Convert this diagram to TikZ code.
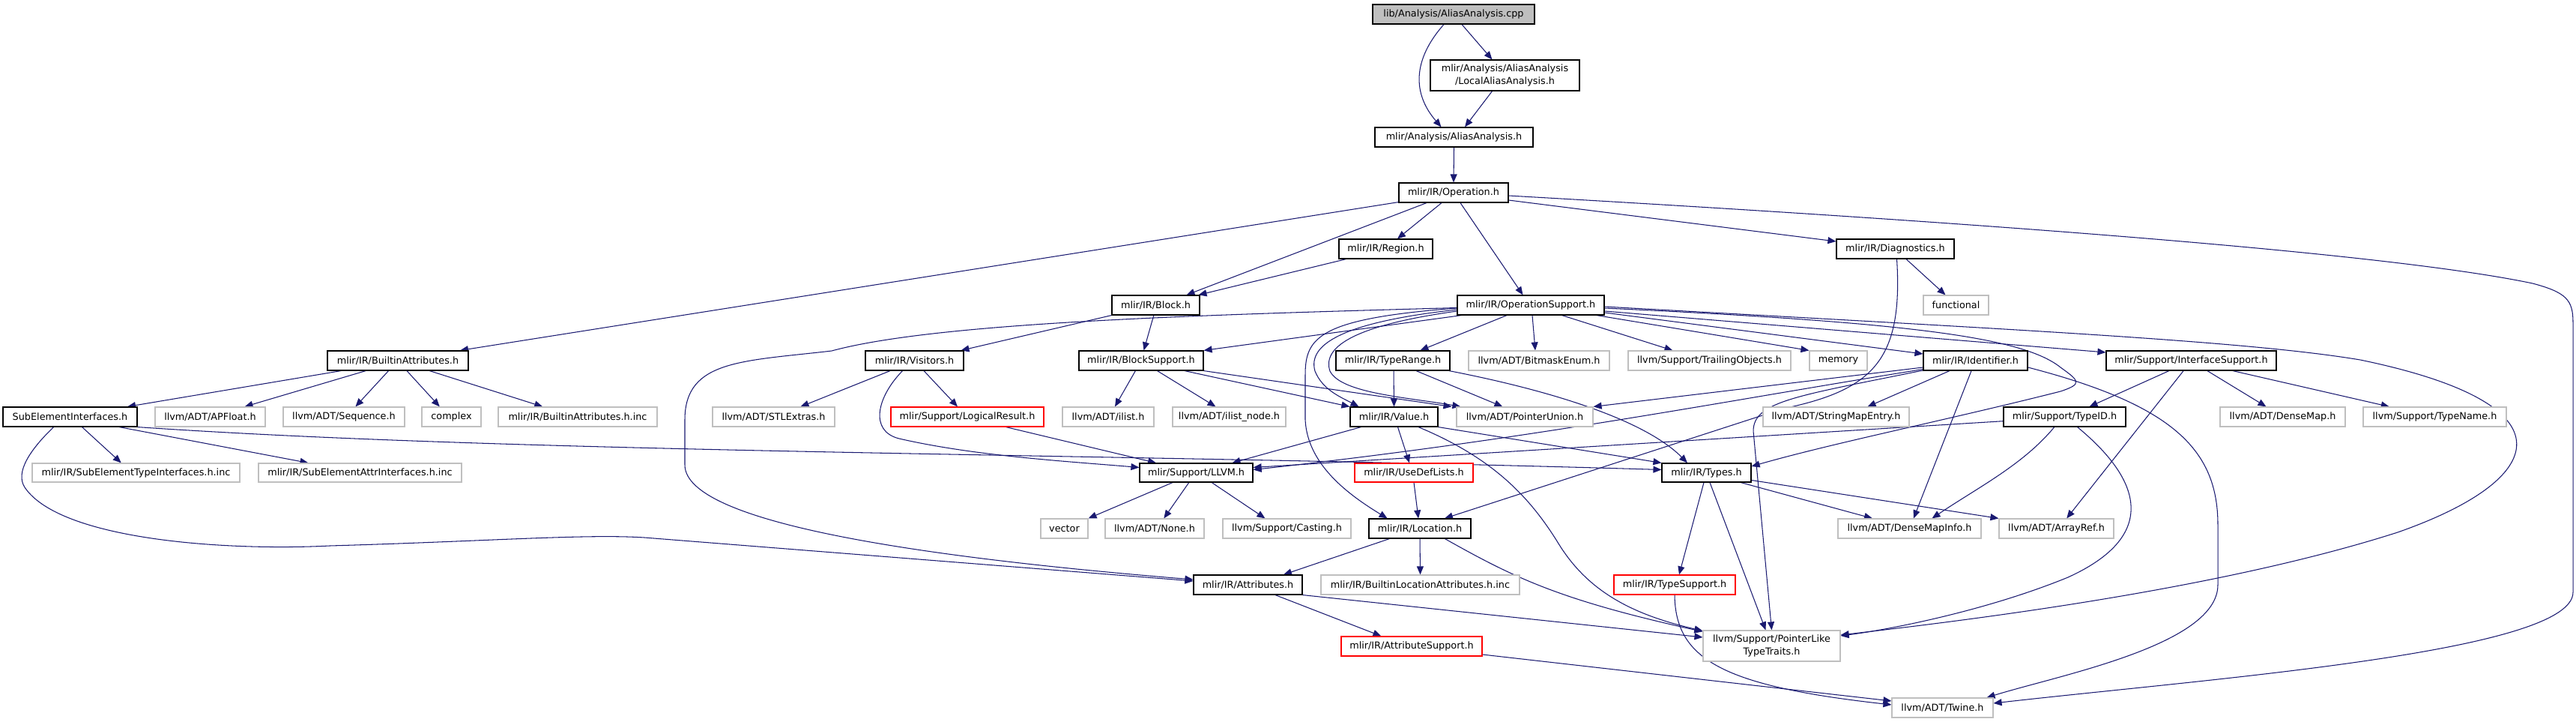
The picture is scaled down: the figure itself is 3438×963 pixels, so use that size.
\documentclass[tikz,border=0pt]{standalone}
\usepackage{fontspec}
\setmainfont{DejaVu Sans}
\usetikzlibrary{arrows.meta}
\definecolor{edgeblue}{HTML}{191970}
\definecolor{greyline}{HTML}{BFBFBF}
\definecolor{rootfill}{HTML}{BFBFBF}
\pgfdeclarelayer{bg}
\pgfsetlayers{bg,main}
\newcommand\nd[7]{\node[#2, minimum width={(#4)-(#3)}, minimum height={(#6)-(#5)}] (#1) at ({((#3)+(#4))/2},{((#5)+(#6))/2}) {#7};}
\tikzset{
  box/.style={rectangle, inner sep=0pt, font=\fontsize{12.8}{16.5}\selectfont, align=center, fill=white, line width=1.15pt},
  nblack/.style={box, draw=black},
  ngrey/.style={box, draw=greyline},
  nred/.style={box, draw=red},
  nroot/.style={box, draw=black, fill=rootfill},
  link/.style={draw=edgeblue, line width=1.05pt, -{Triangle[length=11pt,width=9pt]}}
}
\begin{document}
\begin{tikzpicture}[x=1pt,y=-1pt]
\useasboundingbox (0,0) rectangle (3438,963);
% nodes
\nd{root}{nroot}{1832}{2048}{6}{32}{lib/Analysis/AliasAnalysis.cpp}
\nd{local}{nblack}{1909}{2108}{80}{121}{mlir/Analysis/AliasAnalysis\\/LocalAliasAnalysis.h}
\nd{aah}{nblack}{1835}{2046}{170}{196}{mlir/Analysis/AliasAnalysis.h}
\nd{op}{nblack}{1867}{2013}{244}{270}{mlir/IR/Operation.h}
\nd{region}{nblack}{1787}{1912}{319}{345}{mlir/IR/Region.h}
\nd{diag}{nblack}{2451}{2608}{319}{345}{mlir/IR/Diagnostics.h}
\nd{opsup}{nblack}{1945}{2141}{394}{420}{mlir/IR/OperationSupport.h}
\nd{block}{nblack}{1484}{1601}{394}{420}{mlir/IR/Block.h}
\nd{functional}{ngrey}{2567}{2654}{394}{420}{functional}
% row 4
\nd{battr}{nblack}{437}{625}{468}{494}{mlir/IR/BuiltinAttributes.h}
\nd{visitors}{nblack}{1155}{1286}{468}{494}{mlir/IR/Visitors.h}
\nd{blocksup}{nblack}{1440}{1606}{468}{494}{mlir/IR/BlockSupport.h}
\nd{typerange}{nblack}{1783}{1935}{468}{494}{mlir/IR/TypeRange.h}
\nd{bitmask}{ngrey}{1960}{2148}{468}{494}{llvm/ADT/BitmaskEnum.h}
\nd{trailing}{ngrey}{2173}{2390}{468}{494}{llvm/Support/TrailingObjects.h}
\nd{memory}{ngrey}{2415}{2492}{468}{494}{memory}
\nd{ident}{nblack}{2567}{2706}{468}{494}{mlir/IR/Identifier.h}
\nd{ifsup}{nblack}{2811}{3038}{468}{494}{mlir/Support/InterfaceSupport.h}
% row 5
\nd{subel}{nblack}{4}{183}{543}{569}{SubElementInterfaces.h}
\nd{apfloat}{ngrey}{207}{354}{543}{569}{llvm/ADT/APFloat.h}
\nd{sequence}{ngrey}{378}{540}{543}{569}{llvm/ADT/Sequence.h}
\nd{complex}{ngrey}{563}{642}{543}{569}{complex}
\nd{battrinc}{ngrey}{665}{877}{543}{569}{mlir/IR/BuiltinAttributes.h.inc}
\nd{stlextras}{ngrey}{951}{1114}{543}{569}{llvm/ADT/STLExtras.h}
\nd{logres}{nred}{1189}{1393}{543}{569}{mlir/Support/LogicalResult.h}
\nd{ilist}{ngrey}{1418}{1540}{543}{569}{llvm/ADT/ilist.h}
\nd{ilistnode}{ngrey}{1565}{1716}{543}{569}{llvm/ADT/ilist\_node.h}
\nd{value}{nblack}{1802}{1919}{543}{569}{mlir/IR/Value.h}
\nd{ptrunion}{ngrey}{1944}{2126}{543}{569}{llvm/ADT/PointerUnion.h}
\nd{smentry}{ngrey}{2353}{2548}{543}{569}{llvm/ADT/StringMapEntry.h}
\nd{typeid}{nblack}{2674}{2837}{543}{569}{mlir/Support/TypeID.h}
\nd{densemap}{ngrey}{2963}{3130}{543}{569}{llvm/ADT/DenseMap.h}
\nd{typename}{ngrey}{3154}{3345}{543}{569}{llvm/Support/TypeName.h}
% row 6
\nd{subtinc}{ngrey}{43}{320}{618}{643}{mlir/IR/SubElementTypeInterfaces.h.inc}
\nd{subainc}{ngrey}{345}{616}{618}{643}{mlir/IR/SubElementAttrInterfaces.h.inc}
\nd{llvmh}{nblack}{1521}{1672}{618}{643}{mlir/Support/LLVM.h}
\nd{usedef}{nred}{1808}{1966}{618}{643}{mlir/IR/UseDefLists.h}
\nd{types}{nblack}{2218}{2337}{618}{643}{mlir/IR/Types.h}
% row 7
\nd{vector}{ngrey}{1389}{1452}{692}{718}{vector}
\nd{none}{ngrey}{1475}{1607}{692}{718}{llvm/ADT/None.h}
\nd{casting}{ngrey}{1632}{1803}{692}{718}{llvm/Support/Casting.h}
\nd{location}{nblack}{1827}{1963}{692}{718}{mlir/IR/Location.h}
\nd{dmapinfo}{ngrey}{2453}{2644}{692}{718}{llvm/ADT/DenseMapInfo.h}
\nd{arrayref}{ngrey}{2668}{2821}{692}{718}{llvm/ADT/ArrayRef.h}
% row 8
\nd{attrs}{nblack}{1593}{1738}{767}{793}{mlir/IR/Attributes.h}
\nd{bla}{ngrey}{1763}{2028}{767}{793}{mlir/IR/BuiltinLocationAttributes.h.inc}
\nd{typesup}{nred}{2154}{2316}{767}{793}{mlir/IR/TypeSupport.h}
% rows 9-10
\nd{attrsup}{nred}{1790}{1978}{849}{875}{mlir/IR/AttributeSupport.h}
\nd{pltt}{ngrey}{2273}{2456}{841}{882}{llvm/Support/PointerLike\\TypeTraits.h}
\nd{twine}{ngrey}{2525}{2660}{931}{957}{llvm/ADT/Twine.h}
% edges
\begin{pgfonlayer}{bg}
\draw[link] ([xshift=11]root.south) -- ([xshift=-17]local.north);
\draw[link] ([xshift=-13]root.south) .. controls (1885,80) and (1885,125) .. ([xshift=-17]aah.north);
\draw[link] ([xshift=-17]local.south) -- ([xshift=14.5]aah.north);
\draw[link] (aah.south) -- (op.north);
\draw[link] ([xshift=-16]op.south) -- ([xshift=15.5]region.north);
\draw[link] ([xshift=9]op.south) -- ([xshift=-10.5]opsup.north);
\draw[link] ([yshift=-10]op.east) -- ([yshift=10]diag.west);
\draw[link] ([yshift=-4]op.east) .. controls (2700,300) and (3200,340) .. (3380,378) .. controls (3425,390) and (3434,400) .. (3434,430) -- (3434,790) .. controls (3434,870) and (2950,905) .. ([yshift=6]twine.east);
\draw[link] ([yshift=1]op.south west) -- ([xshift=83]battr.north);
\draw[link] ([xshift=-36]op.south) -- ([xshift=41]block.north);
\draw[link] ([xshift=-53]region.south) -- ([xshift=57]block.north);
\draw[link] ([xshift=14.5]diag.south) -- ([xshift=-14]functional.north);
\draw[link] ([xshift=2]diag.south) .. controls (2540,480) and (2500,520) .. (2380,545) -- ([xshift=33]location.north);
% OperationSupport
\draw[link] ([xshift=-92.6]opsup.south) -- (blocksup.north east);
\draw[link] ([yshift=-3.5]opsup.west) .. controls (1600,420) and (1250,430) .. (1110,468) .. controls (990,482) and (914,480) .. (914,560) -- (914,620) .. controls (914,700) and (1250,745) .. ([yshift=7]attrs.west);
\draw[link] ([xshift=-32]opsup.south) -- ([xshift=36.5]typerange.north);
\draw[link] ([xshift=2]opsup.south) -- ([xshift=-5]bitmask.north);
\draw[link] ([xshift=41.7]opsup.south) -- ([xshift=-49]trailing.north);
\draw[link] ([xshift=88]opsup.south) -- (memory.north west);
\draw[link] ([yshift=-10]opsup.east) -- ([yshift=9]ident.west);
\draw[link] ([yshift=-8]opsup.east) -- ([yshift=11]ifsup.west);
\draw[link] ([yshift=-2]opsup.east) .. controls (2700,440) and (3000,455) .. (3150,480) .. controls (3440,540) and (3400,640) .. (3200,710) .. controls (2950,790) and (2600,830) .. ([yshift=14.5]pltt.east);
\draw[link] ([yshift=-4]opsup.east) .. controls (2550,430) and (2700,450) .. (2750,490) .. controls (2775,508) and (2780,512) .. (2750,522) .. controls (2600,560) and (2450,590) .. ([yshift=8.5]types.east);
\draw[link] ([yshift=-6]opsup.west) .. controls (1790,430) and (1745,460) .. (1755,495) .. controls (1765,520) and (1790,530) .. ([xshift=-47]value.north);
\draw[link] ([yshift=-8]opsup.west) .. controls (1800,435) and (1765,465) .. (1775,495) .. controls (1790,525) and (1880,530) .. ([xshift=6]ptrunion.north west);
\draw[link] ([yshift=-4]opsup.west) .. controls (1760,425) and (1742,450) .. (1742,500) -- (1742,560) .. controls (1745,620) and (1800,660) .. ([xshift=-43.4]location.north);
% Block, Visitors, BlockSupport
\draw[link] (block.south west) -- ([xshift=62]visitors.north);
\draw[link] ([xshift=-2.7]block.south) -- ([xshift=3.5]blocksup.north);
\draw[link] ([xshift=-32.5]visitors.south) -- ([xshift=36]stlextras.north);
\draw[link] ([xshift=12.5]visitors.south) -- ([xshift=-13]logres.north);
\draw[link] ([xshift=-16]visitors.south) .. controls (1170,530) and (1160,575) .. (1200,585) .. controls (1300,608) and (1420,615) .. ([yshift=7]llvmh.west);
\draw[link] ([xshift=51.6]logres.south) -- ([xshift=-53.5]llvmh.north);
\draw[link] ([xshift=58]blocksup.south) -- (value.north west);
\draw[link] (blocksup.south east) -- ([xshift=-6]ptrunion.north west);
\draw[link] ([xshift=-7.6]blocksup.south) -- ([xshift=9]ilist.north);
\draw[link] ([xshift=21.5]blocksup.south) -- ([xshift=-18]ilistnode.north);
% TypeRange
\draw[link] ([xshift=1]typerange.south) -- (value.north);
\draw[link] ([xshift=31]typerange.south) -- ([xshift=-29.6]ptrunion.north);
\draw[link] ([xshift=75]typerange.south) .. controls (2090,525) and (2200,565) .. ([xshift=-25.5]types.north);
% Identifier
\draw[link] ([yshift=-9]ident.west) -- (ptrunion.north east);
\draw[link] ([yshift=-11.5]ident.west) .. controls (2300,535) and (2050,585) .. ([yshift=4]llvmh.east);
\draw[link] ([yshift=-13]ident.west) .. controls (2400,528) and (2340,535) .. (2340,575) -- (pltt.north);
\draw[link] ([xshift=-34.5]ident.south) -- ([xshift=42]smentry.north);
\draw[link] ([xshift=-5.5]ident.south) -- ([xshift=5.4]dmapinfo.north);
\draw[link] ([yshift=-9]ident.east) .. controls (2900,540) and (2960,600) .. (2960,700) -- (2960,780) .. controls (2960,860) and (2750,900) .. ([xshift=59]twine.north);
% InterfaceSupport
\draw[link] ([xshift=-29.6]ifsup.south) -- ([xshift=33]typeid.north);
\draw[link] ([xshift=-10.4]ifsup.south) -- ([xshift=13.7]arrayref.north);
\draw[link] ([xshift=21.4]ifsup.south) -- ([xshift=-22]densemap.north);
\draw[link] ([xshift=55.4]ifsup.south) -- ([xshift=-60.7]typename.north);
% TypeID
\draw[link] ([yshift=-5.7]typeid.west) -- ([yshift=7]llvmh.east);
\draw[link] ([xshift=-13.7]typeid.south) .. controls (2700,620) and (2640,650) .. ([xshift=30]dmapinfo.north);
\draw[link] ([xshift=17]typeid.south) .. controls (2870,650) and (2870,720) .. (2760,770) .. controls (2650,815) and (2520,840) .. ([yshift=13.5]pltt.east);
% Value
\draw[link] (value.south east) -- (types.north west);
\draw[link] ([xshift=5]value.south) -- ([xshift=-6]usedef.north);
\draw[link] ([xshift=-44]value.south) -- ([xshift=48]llvmh.north);
\draw[link] ([xshift=32.5]value.south) .. controls (1990,610) and (2040,660) .. (2080,725) .. controls (2120,790) and (2180,820) .. ([yshift=-1]pltt.north west);
\draw[link] (usedef.south) -- ([xshift=-2]location.north);
% LLVM
\draw[link] ([xshift=-31.5]llvmh.south) -- (vector.north east);
\draw[link] ([xshift=-9.7]llvmh.south) -- ([xshift=12.3]none.north);
\draw[link] ([xshift=20.7]llvmh.south) -- ([xshift=-29]casting.north);
% Types
\draw[link] ([xshift=-3.5]types.south) -- ([xshift=6]typesup.north);
\draw[link] ([xshift=4.5]types.south) -- ([xshift=-8]pltt.north);
\draw[link] ([xshift=45.8]types.south) -- ([xshift=-49.5]dmapinfo.north);
\draw[link] ([yshift=-10]types.east) -- (arrayref.north west);
% Location
\draw[link] ([xshift=-40.6]location.south) -- ([xshift=47.5]attrs.north);
\draw[link] (location.south) -- (bla.north);
\draw[link] ([xshift=33.4]location.south) .. controls (2020,770) and (2080,800) .. ([yshift=-2]pltt.north west);
% Attributes
\draw[link] ([xshift=36.5]attrs.south) -- ([xshift=-40.6]attrsup.north);
\draw[link] (attrs.south east) -- ([yshift=11.5]pltt.west);
\draw[link] ([yshift=-11]attrsup.east) -- ([yshift=9]twine.west);
\draw[link] (typesup.south) .. controls (2236,880) and (2300,915) .. ([yshift=4]twine.west);
% BuiltinAttributes
\draw[link] ([xshift=-75.8]battr.south) -- ([xshift=76.5]subel.north);
\draw[link] ([xshift=-42.8]battr.south) -- ([xshift=46]apfloat.north);
\draw[link] ([xshift=-12.5]battr.south) -- ([xshift=15.4]sequence.north);
\draw[link] ([xshift=12]battr.south) -- ([xshift=-15.7]complex.north);
\draw[link] ([xshift=42.3]battr.south) -- ([xshift=-46.7]battrinc.north);
% SubElementInterfaces
\draw[link] ([xshift=16]subel.south) -- ([xshift=-19.7]subtinc.north);
\draw[link] ([xshift=65.7]subel.south) -- ([xshift=-69]subainc.north);
\draw[link] (subel.south east) .. controls (700,605) and (1500,605) .. ([yshift=4]types.west);
\draw[link] ([xshift=-22]subel.south) .. controls (40,600) and (20,630) .. (33,650) .. controls (80,720) and (300,735) .. (440,728) .. controls (650,722) and (780,712) .. (860,717) -- ([yshift=5]attrs.west);
\end{pgfonlayer}
\end{tikzpicture}
\end{document}
